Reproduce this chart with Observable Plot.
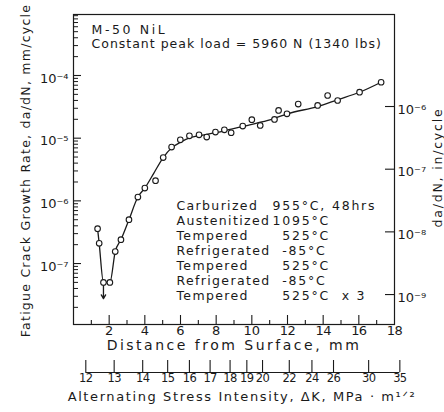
<!DOCTYPE html>
<html><head><meta charset="utf-8">
<script src="https://cdn.jsdelivr.net/npm/d3@7"></script>
<script src="https://cdn.jsdelivr.net/npm/@observablehq/plot@0.6"></script>
<style>
body{margin:0;background:#fff}
svg{display:block}
</style>
</head><body><div id="chart"></div>
<script>
// measured crack-growth points: distance from surface (mm), da/dN (mm/cycle)
const distance = [1.35,1.44,1.68,2.04,2.34,2.66,3.11,3.61,4.00,4.60,5.03,5.50,5.99,6.50,7.04,7.47,7.96,8.46,8.84,9.49,10.0,10.47,11.27,11.5,11.97,12.6,13.69,14.25,14.81,16.04,17.25];
const rate = [3.6e-7,2.1e-7,5.0e-8,5.0e-8,1.55e-7,2.4e-7,5.0e-7,1.15e-6,1.6e-6,2.1e-6,4.9e-6,7.2e-6,9.4e-6,1.09e-5,1.13e-5,1.04e-5,1.25e-5,1.36e-5,1.22e-5,1.56e-5,1.97e-5,1.6e-5,1.99e-5,2.77e-5,2.45e-5,3.5e-5,3.33e-5,4.8e-5,3.99e-5,5.42e-5,7.8e-5];
// hand-drawn trend curve
const fitDistance = [1.35,1.44,1.68,2.04,2.34,2.66,3.11,3.61,4.0,4.5,5.03,5.5,6.0,6.5,7.47,8.4,9.34,10.28,11.2,12.0,13.69,14.8,16.04,17.25];
const fitRate = [3.6e-7,2.1e-7,5.0e-8,5.0e-8,1.55e-7,2.4e-7,5.0e-7,1.15e-6,1.6e-6,2.75e-6,4.9e-6,7.0e-6,8.6e-6,1.01e-5,1.15e-5,1.3e-5,1.5e-5,1.74e-5,2.04e-5,2.45e-5,3.2e-5,4.1e-5,5.4e-5,7.8e-5];
// "below" arrow at the minimum
const arrowDistance = [1.68];
const arrowFrom = [5.0e-8];
const arrowTo = [2.75e-8];

const xMajorTicks = [2,4,6,8,10,12,14,16,18];
const xMinorTicks = [1,3,5,7,9,11,13,15,17];
const yDomain = [1.065e-8, 9.4e-4];
const yLabelTicks = [1e-7,1e-6,1e-5,1e-4];
const decades = [1e-8,1e-7,1e-6,1e-5,1e-4];
const minorMultipliers = [2,3,4,5,6,7,8,9];
const inchTicks = [1e-6,1e-7,1e-8,1e-9];
const inchScaleAsDrawn = 32; // mm/cycle per in/cycle as placed on the drawn right axis
const dkLabels = [12,13,14,15,16,17,18,19,20,22,24,26,30,35];
const dkDistance = [0.69,2.28,3.88,5.28,6.50,7.66,8.78,9.72,10.6,12.1,13.37,14.58,16.55,18.3];
const treatments = ["Carburized","Austenitized","Tempered","Refrigerated","Tempered","Refrigerated","Tempered"];
const conditions = ["955°C, 48hrs","1095°C","\u2007525°C","\u2007-85°C","\u2007525°C","\u2007-85°C","\u2007525°C  x 3"];
const heading = ["M-50 NiL","Constant peak load = 5960 N (1340 lbs)"];
const xTitle = "Distance from Surface, mm";
const dkTitle = "Alternating Stress Intensity, ΔK, MPa · m¹ᐟ²";
const yTitle = "Fatigue Crack Growth Rate, da/dN, mm/cycle";
const y2Title = "da/dN, in/cycle";

const ink = "#1a1a1a";
const W = 444, H = 412, mL = 73, mR = 50, mT = 14, mB = 88;
const frameW = W - mL - mR, frameH = H - mT - mB;
const supMap = {"-":"⁻","0":"⁰","1":"¹","2":"²","3":"³","4":"⁴","5":"⁵","6":"⁶","7":"⁷","8":"⁸","9":"⁹"};
const pow10 = d => "10" + String(Math.round(Math.log10(d))).split("").map(c => supMap[c]).join("");
const yMinor = decades.flatMap(d => minorMultipliers.map(m => d * m)).filter(v => v < yDomain[1]);
const points = distance.map((x, i) => ({x, y: rate[i]}));
const fit = fitDistance.map((x, i) => ({x, y: fitRate[i]}));

const chart = Plot.plot({
  width: W, height: H,
  marginLeft: mL, marginRight: mR, marginTop: mT, marginBottom: mB,
  style: {fontFamily: "DejaVu Sans, sans-serif", fontSize: "12.5px", color: ink, background: "#fff"},
  x: {domain: [0, 18], axis: null},
  y: {type: "log", domain: yDomain, axis: null},
  marks: [
    Plot.frame({stroke: ink, strokeWidth: 1.2}),
    // bottom axis (mm)
    Plot.ruleX(xMajorTicks.filter(d => d < 18), {x: d => d, insetTop: frameH - 9, stroke: ink, strokeWidth: 1.1}),
    Plot.ruleX(xMinorTicks, {x: d => d, insetTop: frameH - 4, stroke: ink, strokeWidth: 1.1}),
    Plot.text(xMajorTicks, {x: d => d, frameAnchor: "bottom", dy: 10, text: d => String(d), fill: ink, fontSize: 13}),
    Plot.text([xTitle], {frameAnchor: "bottom", dy: 25, textAnchor: "middle", fill: ink, fontSize: 14}),
    // left axis (mm/cycle)
    Plot.ruleY(yLabelTicks, {y: d => d, insetRight: frameW - 8, stroke: ink, strokeWidth: 1.1}),
    Plot.ruleY(yMinor, {y: d => d, insetRight: frameW - 5, stroke: ink, strokeWidth: 1}),
    Plot.text(yLabelTicks, {y: d => d, frameAnchor: "left", dx: -5, dy: 3, textAnchor: "end", text: pow10, fill: ink, fontSize: 13}),
    Plot.text([yTitle], {frameAnchor: "left", dx: -48, dy: 1, rotate: -90, textAnchor: "middle", fill: ink, fontSize: 12.5}),
    // right axis (in/cycle)
    Plot.ruleY(inchTicks, {y: d => d * inchScaleAsDrawn, insetLeft: frameW - 10, dx: 1, stroke: ink, strokeWidth: 1.1}),
    Plot.text(inchTicks, {y: d => d * inchScaleAsDrawn, frameAnchor: "right", dx: 3, dy: 3, textAnchor: "start", text: pow10, fill: ink, fontSize: 13}),
    Plot.text([y2Title], {frameAnchor: "right", dx: 43, dy: -2, rotate: -90, textAnchor: "middle", fill: ink, fontSize: 12.5}),
    // secondary stress-intensity axis
    Plot.ruleY([yDomain[0]], {x1: dkDistance[0], x2: dkDistance[dkDistance.length - 1], dy: 48, stroke: ink, strokeWidth: 1.1}),
    Plot.ruleX(dkDistance, {x: d => d, insetTop: frameH - 12, dy: 48, stroke: ink, strokeWidth: 1.1}),
    Plot.text(dkLabels, {x: (d, i) => dkDistance[i], frameAnchor: "bottom", dy: 57, text: d => String(d), fill: ink, fontSize: 11.5}),
    Plot.text([dkTitle], {frameAnchor: "bottom", dx: 8, dy: 76, textAnchor: "middle", fill: ink, fontSize: 13}),
    // data
    Plot.line(fit, {x: "x", y: "y", curve: "monotone-x", stroke: ink, strokeWidth: 1.3}),
    Plot.arrow(arrowDistance, {x1: d => d, x2: d => d, y1: (d, i) => arrowFrom[i], y2: (d, i) => arrowTo[i], insetStart: 3, headLength: 5, stroke: ink, strokeWidth: 1.3}),
    Plot.dot(points, {x: "x", y: "y", r: 2.8, stroke: ink, fill: "#fff", strokeWidth: 1.1}),
    // annotations
    Plot.text([heading.join("\n")], {frameAnchor: "top-left", dx: 18, dy: 10, lineAnchor: "top", lineHeight: 1.12, textAnchor: "start", fill: ink, fontSize: 12.5}),
    Plot.text([treatments.join("\n")], {frameAnchor: "top-left", dx: 103, dy: 185, lineAnchor: "top", lineHeight: 1.2, textAnchor: "start", fill: ink, fontSize: 12.5}),
    Plot.text([conditions.join("\n")], {frameAnchor: "top-left", dx: 199, dy: 185, lineAnchor: "top", lineHeight: 1.2, textAnchor: "start", fill: ink, fontSize: 12.5})
  ]
});
document.getElementById("chart").appendChild(chart);

// letter-spacing of the lettering, applied to the rendered texts
const spacing = new Map([
  [heading[0], 2.6], [heading[1], 1.0], [xTitle, 2.5], [dkTitle, 1.6], [yTitle, 1.25], [y2Title, 1.8]
]);
treatments.forEach(t => spacing.set(t, 1.35));
conditions.forEach(t => spacing.set(t, 1.8));
dkLabels.forEach(t => spacing.set(String(t), -0.6));
d3.select(chart).selectAll("text").each(function() {
  const spans = this.querySelectorAll("tspan");
  const parts = spans.length ? Array.from(spans) : [this];
  parts.forEach(el => {
    const s = spacing.get(el.textContent);
    if (s !== undefined && !(this.getAttribute("font-size") === "13" && dkLabels.includes(+el.textContent))) el.style.letterSpacing = s + "px";
  });
});
</script>
</body></html>
